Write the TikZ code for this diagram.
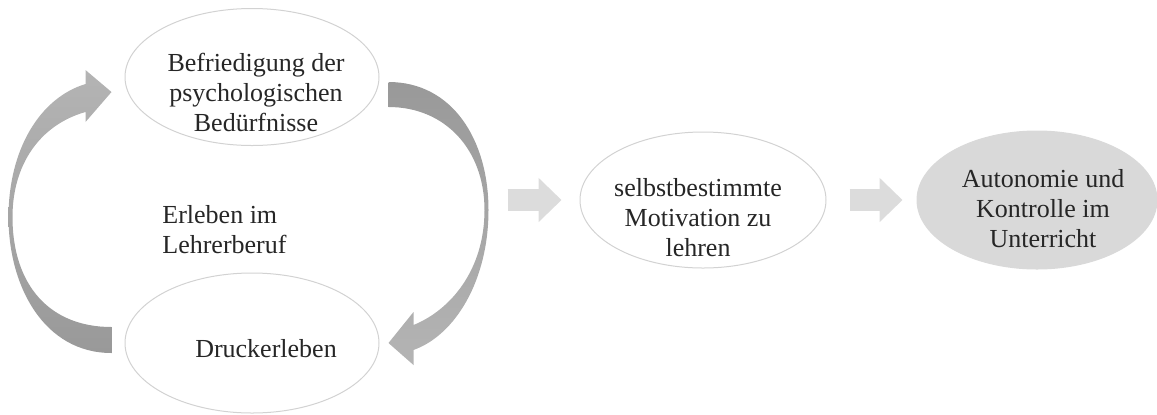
\documentclass[tikz,border=0pt]{standalone}
\usepackage{fontspec}
\setmainfont{Liberation Serif}
\usetikzlibrary{calc,arrows.meta,shapes.geometric}
\definecolor{rimgray}{HTML}{D2D2D2}
\definecolor{fillgray}{HTML}{D9D9D9}
\definecolor{flatgray}{HTML}{DCDCDC}
\definecolor{darkarc}{HTML}{999999}
\definecolor{lightarc}{HTML}{B4B4B4}
\tikzset{flatarrow/.style = {draw=flatgray, line width=11pt, -{Triangle[length=11.5pt,width=21.5pt]}}}

\begin{document}
\begin{tikzpicture}[x=0.5pt, y=-0.5pt, bub/.style={ellipse,draw=rimgray,line width=0.5pt,inner sep=0pt},
  txt/.style={font=\fontsize{13}{15}\selectfont,text=black!85,align=center,inner sep=0pt}]
            \useasboundingbox (0,0) rectangle (1157,414);
            \node[bub, minimum width=127pt, minimum height=68.5pt] (need) at (252,77) {};
            \node[bub, minimum width=127pt, minimum height=70pt] (press) at (252,343) {};
            \node[bub, minimum width=123pt, minimum height=68pt] (motiv) at (703,200) {};
            \node[bub, fill=fillgray, draw=fillgray, minimum width=120pt, minimum height=69pt] (auto) at (1037,200) {};
            \node[txt] (needtext) at ([shift={(4,15)}]need.center) {Befriedigung der\\psychologischen\\Bedürfnisse};
            \node[txt] (presstext) at ([shift={(14,6)}]press.center) {Druckerleben};
            \node[txt] (motivtext) at ([shift={(-5,18)}]motiv.center) {selbstbestimmte\\Motivation zu\\lehren};
            \node[txt] (autotext) at ([shift={(6,9)}]auto.center) {Autonomie und\\Kontrolle im\\Unterricht};
            \node[txt, align=left, anchor=north west] (cycletext) at (162,205) {Erleben im\\Lehrerberuf};
            \coordinate (lm) at ($(need.west)!.5!(press.west)$);
            \coordinate (rm) at ($(need.east)!.5!(press.east)$);
            \shade[top color=lightarc, bottom color=darkarc] ([shift={(-13,10)}]press.west)
                .. controls +(-67,0) and +(0,70) .. ([shift={(-116,7)}]lm)
                .. controls +(0,-67) and +(-46,14) .. ([shift={(-39,7)}]need.west)
                -- ++(0,-14) -- ([shift={(-13,15)}]need.west) -- ([shift={(-39,45)}]need.west) -- ++(0,-10)
                .. controls +(-46,13) and +(0,-52) .. ([shift={(-112,7)}]lm)
                .. controls +(0,68) and +(-62,0) .. ([shift={(-13,-16)}]press.west) -- cycle;
            \shade[top color=darkarc, bottom color=lightarc] ([shift={(9,5)}]need.east)
                .. controls +(64,0) and +(0,-70) .. ([shift={(109,0)}]rm)
                .. controls +(0,70) and +(42,-15) .. ([shift={(34,7)}]press.east)
                -- ++(0,15) -- ([shift={(9,0)}]press.east) -- ([shift={(34,-31)}]press.east) -- ++(0,13)
                .. controls +(37,-15) and +(0,60) .. ([shift={(105,0)}]rm)
                .. controls +(0,-60) and +(57,0) .. ([shift={(9,30)}]need.east) -- cycle;
            \coordinate (cyc) at ([shift={(109,-10)}]rm);
            \draw[flatarrow, shorten <=9.5pt, shorten >=9pt] (cyc) -- (motiv.west);
            \draw[flatarrow, shorten <=11.5pt, shorten >=7pt] (motiv.east) -- (auto.west);
        \end{tikzpicture}
\end{document}
